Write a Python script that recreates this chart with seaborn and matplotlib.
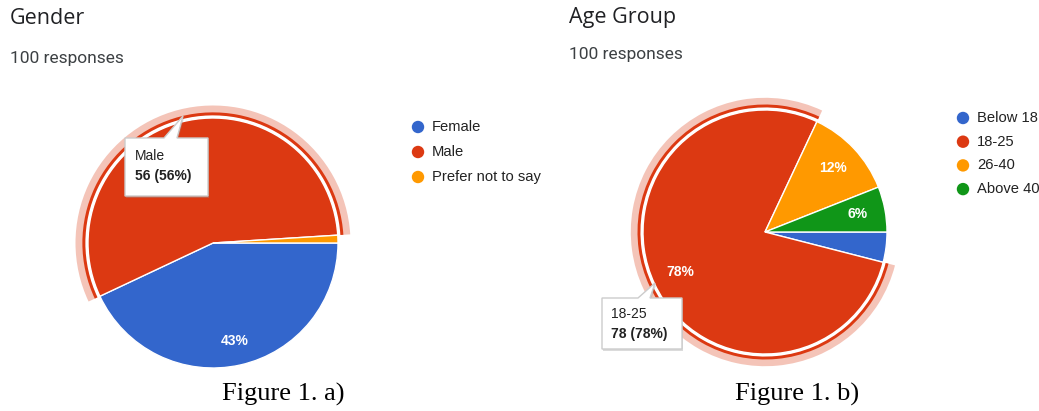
import matplotlib
matplotlib.use('Agg')
import numpy as np
import matplotlib.pyplot as plt
import seaborn as sns
from matplotlib.patches import Wedge, Polygon

# Survey data (100 responses each)
gender_labels = ['Female', 'Male', 'Prefer not to say']
gender_counts = [43, 56, 1]
age_labels = ['Below 18', '18-25', '26-40', 'Above 40']
age_counts = [4, 78, 12, 6]
n_responses = 100

sns.set_theme(style='white')
plt.rcParams['font.family'] = ['Liberation Sans', 'DejaVu Sans']

# Google Forms palette
colors = sns.color_palette(['#3366cc', '#dc3912', '#ff9900', '#109618'])
ring_pink = '#f4c4b8'

W, H = 1039, 411
fig = plt.figure(figsize=(W / 100, H / 100), dpi=100)


def draw_pie(cx, cy, r, counts, hi, pctdist):
    """Pie centred at pixel (cx, cy) with radius r px; hi = highlighted slice."""
    ax = fig.add_axes([(cx - 150) / W, (H - cy - 150) / H, 300 / W, 300 / H])
    wedges, _ = ax.pie(counts, colors=colors[:len(counts)], startangle=0,
                       counterclock=False, radius=1,
                       wedgeprops=dict(edgecolor='white', linewidth=1))
    lim = 150 / r
    ax.set_xlim(-lim, lim)
    ax.set_ylim(-lim, lim)
    ax.set_aspect('equal')
    ax.axis('off')
    total = sum(counts)
    for w, c in zip(wedges, counts):
        share = 100 * c / total
        if share < 5:
            continue
        mid = np.deg2rad((w.theta1 + w.theta2) / 2)
        ax.text(pctdist * np.cos(mid), pctdist * np.sin(mid), f'{share:.0f}%',
                ha='center', va='center', color='white', fontsize=10,
                fontweight='bold', zorder=5)
    # highlight ring on hovered slice
    w = wedges[hi]
    ax.add_patch(Wedge((0, 0), 1.10, w.theta1, w.theta2, width=0.075,
                       facecolor=ring_pink, edgecolor='none', zorder=3))
    ax.add_patch(Wedge((0, 0), 1.045, w.theta1, w.theta2, width=0.024,
                       facecolor=colors[hi], edgecolor='none', zorder=4))
    return ax


draw_pie(213, 243, 125, gender_counts, hi=1, pctdist=0.8)
draw_pie(765, 232, 122, age_counts, hi=1, pctdist=0.77)

# overlay in pixel coordinates for titles, legends, tooltips, captions
ov = fig.add_axes([0, 0, 1, 1])
ov.set_xlim(0, W)
ov.set_ylim(H, 0)
ov.axis('off')

title_c = '#202124'
sub_c = '#3c4043'
ov.text(10, 19, 'Gender', fontsize=15.5, family='Open Sans', color=title_c,
        va='center', ha='left')
ov.text(10, 59, f'{n_responses} responses', fontsize=12.5, family='Roboto',
        color=sub_c, va='center', ha='left')
ov.text(569, 17, 'Age Group', fontsize=15.5, family='Open Sans', color=title_c,
        va='center', ha='left')
ov.text(569, 54, f'{n_responses} responses', fontsize=12.5, family='Roboto',
        color=sub_c, va='center', ha='left')


def legend(x, y0, dy, labels):
    for i, lab in enumerate(labels):
        y = y0 + i * dy
        ov.scatter([x], [y], s=80, color=colors[i], edgecolor='none')
        ov.text(x + 14, y, lab, fontsize=10.6, color='#222222',
                va='center', ha='left')


legend(418, 127, 25, gender_labels)
legend(963, 118, 23.7, age_labels)


def tooltip(pts, line1, line2, tx, ty):
    sh = [(x + 1, y + 2) for x, y in pts]
    ov.add_patch(Polygon(sh, closed=True, facecolor='#999999', alpha=0.35,
                         edgecolor='none', zorder=6))
    ov.add_patch(Polygon(pts, closed=True, facecolor='white',
                         edgecolor='#cccccc', linewidth=1, zorder=7))
    ov.text(tx, ty, line1, fontsize=10, color='#222222', va='center',
            ha='left', zorder=8)
    ov.text(tx, ty + 20, line2, fontsize=10, fontweight='bold',
            color='#222222', va='center', ha='left', zorder=8)


i = gender_labels.index('Male')
tooltip([(125, 138), (164, 138), (183, 116), (177, 138), (208, 138),
         (208, 196), (125, 196)],
        gender_labels[i], f'{gender_counts[i]} ({gender_counts[i]}%)', 135, 156)
i = age_labels.index('18-25')
tooltip([(602, 298), (638, 298), (655, 283), (650, 298), (682, 298),
         (682, 349), (602, 349)],
        age_labels[i], f'{age_counts[i]} ({age_counts[i]}%)', 611, 314)

# figure captions
ov.text(222, 394, 'Figure 1. a)', fontsize=19, family='Liberation Serif',
        color='black', va='center', ha='left')
ov.text(735, 394, 'Figure 1. b)', fontsize=19, family='Liberation Serif',
        color='black', va='center', ha='left')

fig.savefig('out.png', dpi=100)
